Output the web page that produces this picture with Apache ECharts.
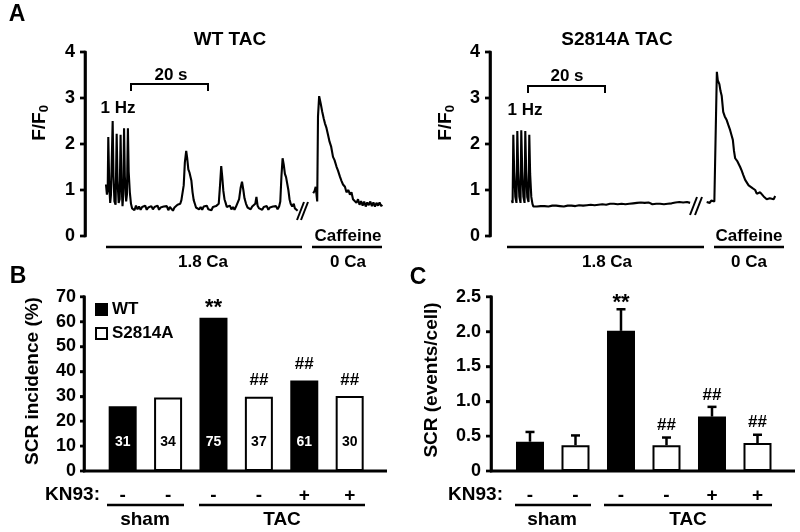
<!DOCTYPE html>
<html><head><meta charset="utf-8">
<script src="https://cdn.jsdelivr.net/npm/echarts@6/dist/echarts.min.js"></script>
<style>html,body{margin:0;padding:0;background:#fff}#c{width:800px;height:532px}</style>
</head><body><div id="c"></div>
<script>
const FONT = '"Liberation Sans", Arial, Helvetica, sans-serif';

// ---------- Panel A: Ca transients, [time (s), F/F0] ----------
const wtTrace = [
[0.0,1.12],[0.25,0.9],[0.45,1.0],[0.6,2.15],[0.85,1.1],[1.1,0.72],[1.3,0.9],
[1.74,2.5],[1.95,1.3],[2.2,0.75],[2.5,0.68],
[2.78,2.22],[3.0,1.2],[3.3,0.72],[3.55,0.8],
[3.8,2.2],[4.0,1.2],[4.3,0.65],[4.5,0.9],
[4.7,2.34],[4.9,1.3],[5.25,0.75],[5.45,0.9],
[5.7,2.34],[5.9,1.4],[6.2,0.95],[6.5,0.7],[6.8,0.6],
[7.0,0.62],[7.4,0.56],[7.8,0.66],[8.2,0.58],[8.6,0.64],[9.0,0.57],[9.4,0.63],[9.8,0.6],
[10.2,0.66],[10.6,0.57],[11.0,0.62],[11.4,0.59],[11.8,0.65],[12.2,0.58],[12.6,0.63],[13.0,0.6],
[13.4,0.66],[13.8,0.57],[14.2,0.62],[14.6,0.58],[15.0,0.64],[15.4,0.6],[15.8,0.65],[16.2,0.56],
[16.6,0.63],[17.0,0.6],[17.4,0.55],[17.8,0.62],[18.2,0.66],[18.6,0.68],[19.0,0.72],[19.3,0.7],
[19.6,0.78],[19.9,0.75],[20.2,1.1],[20.5,1.6],[20.85,1.85],[21.1,1.7],[21.4,1.45],[21.7,1.38],
[21.95,1.4],[22.2,1.2],[22.5,0.95],[22.8,0.78],[23.1,0.7],[23.4,0.62],[23.8,0.66],[24.2,0.58],
[24.6,0.63],[25.0,0.57],[25.4,0.64],[25.8,0.6],[26.2,0.66],[26.6,0.58],[27.0,0.62],[27.4,0.56],
[27.8,0.63],[28.2,0.6],[28.6,0.65],[29.0,0.62],[29.3,0.7],[29.6,1.05],[29.95,1.52],[30.2,1.3],
[30.5,0.98],[30.8,0.8],[31.1,0.72],[31.4,0.63],[31.8,0.6],[32.2,0.66],[32.6,0.58],[33.0,0.63],
[33.4,0.57],[33.8,0.64],[34.2,0.66],[34.6,0.8],[35.0,1.05],[35.35,1.18],[35.7,1.0],[36.0,0.82],
[36.4,0.7],[36.8,0.62],[37.2,0.66],[37.6,0.58],[38.0,0.64],[38.4,0.6],[38.8,0.7],[39.1,0.85],
[39.4,0.66],[39.8,0.6],[40.2,0.64],[40.6,0.57],[41.0,0.63],[41.4,0.59],[41.8,0.65],[42.2,0.57],
[42.6,0.62],[43.0,0.58],[43.4,0.64],[43.8,0.6],[44.2,0.65],[44.6,0.58],[45.0,0.64],[45.3,0.75],
[45.6,1.3],[45.9,1.69],[46.2,1.55],[46.5,1.35],[46.8,1.28],[47.1,1.3],[47.4,1.0],[47.7,0.8],
[48.0,0.7],[48.4,0.64],[48.8,0.7],[49.1,0.6],[49.4,0.57],[49.8,0.55]
];
const wtCaffeine = [
[53.85,0.93],[54.2,0.98],[54.5,1.07],[54.9,0.75],[55.1,2.6],[55.4,3.04],[55.8,2.88],[56.2,2.7],
[56.6,2.55],[56.9,2.45],[57.3,2.35],[57.7,2.2],[58.1,2.05],[58.5,1.95],[59.0,1.72],[59.4,1.65],
[59.9,1.51],[60.3,1.42],[60.8,1.29],[61.2,1.2],[61.6,1.12],[62.1,1.07],[62.5,0.95],[63.0,1.0],
[63.4,0.9],[63.8,0.95],[64.2,0.8],[64.7,0.84],[65.1,0.72],[65.5,0.8],[65.9,0.68],[66.3,0.76],
[66.7,0.66],[67.1,0.75],[67.5,0.64],[67.9,0.73],[68.3,0.67],[68.7,0.75],[69.1,0.65],[69.5,0.73],
[69.9,0.64],[70.3,0.72],[70.7,0.66],[71.1,0.73],[71.5,0.65],[71.8,0.68]
];
const mutTrace = [
[1.0,0.78],[1.2,0.72],[1.38,2.2],[1.6,1.4],[1.9,0.85],[2.2,0.72],[2.42,2.28],[2.65,1.4],
[2.95,0.85],[3.25,0.72],[3.45,2.3],[3.7,1.4],[4.0,0.85],[4.3,0.72],[4.49,2.28],[4.72,1.4],
[5.0,0.85],[5.33,0.74],[5.53,2.2],[5.75,1.35],[6.05,0.85],[6.35,0.7],[6.6,0.64],
[7.0,0.66],[7.5,0.64],[8.0,0.67],[8.5,0.65],[9.0,0.68],[9.5,0.65],[10.0,0.67],[10.5,0.64],
[11.0,0.68],[11.5,0.66],[12.0,0.69],[12.5,0.66],[13.0,0.68],[13.5,0.65],[14.0,0.67],[14.5,0.64],
[15.0,0.68],[15.5,0.66],[16.0,0.69],[16.5,0.66],[17.0,0.68],[17.5,0.65],[18.0,0.69],[18.5,0.67],
[19.0,0.7],[19.5,0.66],[20.0,0.69],[20.5,0.67],[21.0,0.7],[21.5,0.68],[22.0,0.71],[22.5,0.67],
[23.0,0.7],[23.5,0.68],[24.0,0.72],[24.5,0.69],[25.0,0.71],[25.5,0.68],[26.0,0.72],[26.5,0.7],
[27.0,0.73],[27.5,0.7],[28.0,0.72],[28.5,0.69],[29.0,0.72],[29.5,0.7],[30.0,0.73],[30.5,0.69],
[31.0,0.72],[31.5,0.7],[32.0,0.73],[32.5,0.71],[33.0,0.68],[33.5,0.72],[34.0,0.7],[34.5,0.73],
[35.0,0.69],[35.5,0.72],[36.0,0.7],[36.5,0.73],[37.0,0.71],[37.5,0.69],[38.0,0.72],[38.5,0.7],
[39.0,0.74],[39.5,0.7],[40.0,0.72],[40.5,0.69],[41.0,0.73],[41.5,0.7],[42.0,0.74],[42.5,0.71],
[43.0,0.68],[43.5,0.73],[44.0,0.7],[44.5,0.74],[45.0,0.71],[45.5,0.73],[46.0,0.69],[46.5,0.74],
[47.0,0.7],[47.3,0.72]
];
const mutCaffeine = [
[51.6,0.74],[52.0,0.78],[52.4,0.72],[52.8,0.77],[53.2,0.73],[53.6,0.75],[53.95,0.72],[54.25,3.57],
[54.5,3.38],[54.9,3.3],[55.2,3.15],[55.5,3.05],[55.9,2.7],[56.3,2.6],[56.8,2.52],[57.2,2.42],
[57.7,2.3],[58.1,2.18],[58.4,2.09],[58.7,1.85],[59.0,1.69],[59.6,1.62],[60.3,1.5],[60.7,1.42],
[61.1,1.33],[61.6,1.22],[62.0,1.18],[62.5,1.1],[62.9,1.11],[63.5,1.04],[64.2,1.0],[64.6,0.92],
[65.0,0.89],[65.5,0.95],[65.9,0.93],[66.4,0.86],[66.8,0.85],[67.2,0.8],[67.6,0.78],[68.0,0.82],
[68.5,0.85],[69.0,0.8],[69.4,0.87]
];
const traceTicks = [0, 1, 2, 3, 4];

// ---------- Panel B: SCR incidence (%) ----------
const kn93Labels = ['-', '-', '-', '-', '+', '+'];
const wtIncidence = [26.0, 61.5, 36.3];     // sham, TAC, TAC+KN93
const mutIncidence = [29.5, 29.8, 30.1];
const wtCells = [31, 75, 61];
const mutCells = [34, 37, 30];
const incidenceSig = ['', '', '**', '##', '##', '##'];
const incidenceTicks = [0, 10, 20, 30, 40, 50, 60, 70];

// ---------- Panel C: SCR (events/cell) ----------
const wtEvents = [0.42, 2.01, 0.78];
const wtEventsSem = [0.14, 0.31, 0.14];
const mutEvents = [0.37, 0.37, 0.40];
const mutEventsSem = [0.14, 0.11, 0.12];
const eventsSig = ['', '', '**', '##', '##', '##'];
const eventsTicks = [0, 0.5, 1.0, 1.5, 2.0, 2.5];

// ---------- layout: x=0 of each x axis is where the y axis line sits ----------
const LEAD_A1 = 5.45, LEAD_A2 = 4.675;   // s between y axis and trace start
const LEAD_B = 0.852, LEAD_C = 0.857;    // bar slots between y axis and first bar

const shift = (data, lead) => data.map(p => [p[0] + lead, p[1]]);
const wtPairs = (vals, lead) => vals.map((v, i) => [2 * i + lead, v]);
const mutPairs = (vals, lead) => vals.map((v, i) => [2 * i + 1 + lead, v]);
const merge = (wt, mut) => { const o = []; wt.forEach((v, i) => o.push(v, mut[i])); return o; };
const meanB = merge(wtIncidence, mutIncidence);
const meanC = merge(wtEvents, mutEvents);
const semC = merge(wtEventsSem, mutEventsSem);
const cellsB = merge(wtCells, mutCells);

const bold = (s) => 'bold ' + s + 'px ' + FONT;
function T(x, y, text, size, extra, styleExtra) {
  return Object.assign({ type: 'text', x: x, y: y, z: 10,
    style: Object.assign({ text: text, fill: '#000', font: bold(size), align: 'center', verticalAlign: 'middle' }, styleExtra || {}) }, extra || {});
}
function L(x1, y1, x2, y2, w) {
  return { type: 'line', z: 10, shape: { x1: x1, y1: y1, x2: x2, y2: y2 }, style: { stroke: '#000', lineWidth: w || 2.5 } };
}
function R(x, y, w, h) {
  return { type: 'rect', z: 10, shape: { x: x, y: y, width: w, height: h }, style: { fill: '#000' } };
}
function FF(x, y) {
  return { type: 'text', x: x, y: y, rotation: Math.PI / 2, z: 10,
    style: { text: '{a|F/F}{b|0}', align: 'center', verticalAlign: 'middle', fill: '#000',
      rich: { a: { font: bold(19), lineHeight: 22, fill: '#000' }, b: { font: bold(13), lineHeight: 14, verticalAlign: 'bottom', fill: '#000' } } } };
}

const valueY = (gi, ticks, margin, tickLen, fmt) => ({
  gridIndex: gi, type: 'value', min: ticks[0], max: ticks[ticks.length - 1], interval: ticks[1] - ticks[0],
  axisLine: { show: true, onZero: true, lineStyle: { color: '#000', width: 2.6 } },
  axisTick: { show: true, inside: false, length: tickLen, lineStyle: { color: '#000', width: 2.4 } },
  axisLabel: { color: '#000', fontWeight: 'bold', fontSize: 18, fontFamily: FONT, margin: margin, formatter: fmt },
  splitLine: { show: false }
});
const barX = (gi, min, max, lead) => ({
  gridIndex: gi, type: 'value', min: min, max: max,
  axisLine: { show: false }, axisTick: { show: false }, splitLine: { show: false },
  axisLabel: { color: '#000', fontWeight: 'bold', fontSize: 19, fontFamily: FONT, margin: 15,
    customValues: [0, 1, 2, 3, 4, 5].map(i => i + lead), formatter: v => kn93Labels[Math.round(v - lead)] || '' }
});
const traceLine = (xi, data) => ({
  type: 'line', xAxisIndex: xi, yAxisIndex: xi, data: data, showSymbol: false, symbol: 'none',
  lineStyle: { color: '#000', width: 2.1 }, silent: true
});

function sigSeries(xi, lead, means, sems, sigs, gap, withErr) {
  const data = means.map((m, i) => [i + lead, m]);
  return {
    type: 'custom', xAxisIndex: xi, yAxisIndex: xi, z: 5, clip: false, silent: true, data: data,
    renderItem: function (params, api) {
      const i = params.dataIndex;
      const x = i + lead;
      const base = api.coord([x, means[i]]);
      const children = [];
      let topY = base[1];
      if (withErr) {
        const top = api.coord([x, means[i] + sems[i]]);
        topY = top[1];
        children.push({ type: 'rect', shape: { x: base[0] - 1.25, y: top[1], width: 2.5, height: base[1] - top[1] }, style: { fill: '#000' } });
        children.push({ type: 'rect', shape: { x: top[0] - 4.5, y: top[1] - 1.25, width: 9, height: 2.5 }, style: { fill: '#000' } });
      }
      const s = sigs[i];
      if (s) {
        const star = s === '**';
        children.push({ type: 'text', x: base[0], y: topY - gap + (star ? 6 : 0),
          style: { text: s, fill: '#000', font: bold(star ? 22 : 17), align: 'center', verticalAlign: 'middle' } });
      }
      return { type: 'group', children: children };
    }
  };
}

const barSeries = (xi, name, data, fill, label) => ({
  type: 'bar', name: name, xAxisIndex: xi, yAxisIndex: xi, data: data, barWidth: 28, barGap: '-100%',
  itemStyle: { color: fill, borderColor: '#000', borderWidth: 2 }, label: label
});
const cellLabel = (color) => ({ show: true, position: 'insideBottom', distance: 22, color: color,
  fontWeight: 'bold', fontSize: 14, fontFamily: FONT, formatter: p => String(cellsB[Math.round(p.value[0] - LEAD_B)]) });

// grids start 1 px left of the axis line so x = 0 lies just inside each grid
const GRIDS = [
  { left: 84, top: 52, width: 299, height: 184 },
  { left: 489, top: 52, width: 296, height: 184 },
  { left: 83, top: 296.7, width: 304, height: 174.3 },
  { left: 490, top: 296.7, width: 305, height: 174.3 }
];
const AXIS_X = [85, 490, 84, 491];

// backup y-axis lines with outward ticks on the same linear scale
function yAxisGraphics(gi, ticks, len) {
  const g = GRIDS[gi], x = AXIS_X[gi];
  const lo = ticks[0], hi = ticks[ticks.length - 1];
  const py = v => g.top + g.height * (1 - (v - lo) / (hi - lo));
  const out = [R(x - 1.3, py(hi) - 1.2, 2.6, py(lo) - py(hi) + 2.4)];
  ticks.forEach(t => out.push(R(x - len, py(t) - 1.2, len, 2.4)));
  return out;
}

const graphics = [
  T(17, 15, 'A', 23), T(18, 277, 'B', 23), T(418, 278, 'C', 23),
  T(230, 40, 'WT TAC', 19), T(617, 40, 'S2814A TAC', 19),
  FF(40, 123), FF(446, 123),
  // 20 s scale bars
  L(131, 84, 208, 84, 2), R(130, 83, 2, 8), R(207, 83, 2, 8),
  L(528, 86, 605, 86, 2), R(527, 85, 2, 8), R(604, 85, 2, 8),
  T(171, 75, '20 s', 17), T(567, 76, '20 s', 17),
  T(118, 108, '1 Hz', 17), T(525, 110, '1 Hz', 17),
  // axis breaks
  L(297, 220, 304, 202, 2), L(301, 220, 308, 202, 2),
  L(690, 215, 697, 197, 2), L(695, 215, 702, 197, 2),
  // solution bars
  L(106, 247, 302, 247, 2.5), L(312, 247, 382, 247, 2.5),
  L(507, 247, 704, 247, 2.5), L(714, 247, 784, 247, 2.5),
  T(348, 236, 'Caffeine', 17), T(203, 262, '1.8 Ca', 17), T(348, 262, '0 Ca', 17),
  T(749, 236, 'Caffeine', 17), T(607, 262, '1.8 Ca', 17), T(749, 262, '0 Ca', 17),
  // panel B/C axis titles and baselines
  T(33, 381, 'SCR incidence (%)', 19, { rotation: Math.PI / 2 }),
  T(432, 380, 'SCR (events/cell)', 19, { rotation: Math.PI / 2 }),
  L(83, 471, 387, 471, 3), L(490, 471, 795, 471, 3),
  T(100, 495, 'KN93:', 19, null, { align: 'right' }),
  T(503, 495, 'KN93:', 19, null, { align: 'right' }),
  L(107, 505, 184, 505, 2.5), L(199, 505, 365, 505, 2.5),
  L(515, 505, 591, 505, 2.5), L(604, 505, 772, 505, 2.5),
  T(145, 520, 'sham', 19), T(282, 520, 'TAC', 19),
  T(552, 520, 'sham', 19), T(688, 520, 'TAC', 19)
].concat(
  yAxisGraphics(0, traceTicks, 5),
  yAxisGraphics(1, traceTicks, 5),
  yAxisGraphics(2, incidenceTicks, 4),
  yAxisGraphics(3, eventsTicks, 5)
);

const chart = echarts.init(document.getElementById('c'), null, { renderer: 'canvas' });
chart.setOption({
  backgroundColor: '#fff',
  animation: false,
  textStyle: { fontFamily: FONT },
  grid: GRIDS,
  xAxis: [
    { gridIndex: 0, type: 'value', min: -0.26, max: -0.26 + 299 / 3.848, show: false },
    { gridIndex: 1, type: 'value', min: -0.26, max: -0.26 + 296 / 3.85, show: false },
    barX(2, -0.022, -0.022 + 304 / 45.4, LEAD_B),
    barX(3, -0.022, -0.022 + 305 / 45.5, LEAD_C)
  ],
  yAxis: [
    valueY(0, traceTicks, 9, 5), valueY(1, traceTicks, 9, 5),
    valueY(2, incidenceTicks, 7, 4),
    valueY(3, eventsTicks, 9, 5, v => v === 0 ? '0' : v.toFixed(1))
  ],
  legend: {
    orient: 'vertical', left: 95, top: 301, padding: 0, itemWidth: 11, itemHeight: 11, itemGap: 7,
    icon: 'rect', selectedMode: false, data: ['WT', 'S2814A'],
    textStyle: { color: '#000', fontWeight: 'bold', fontSize: 17, fontFamily: FONT, lineHeight: 12 }
  },
  series: [
    traceLine(0, shift(wtTrace, LEAD_A1)), traceLine(0, shift(wtCaffeine, LEAD_A1)),
    traceLine(1, shift(mutTrace, LEAD_A2)), traceLine(1, shift(mutCaffeine, LEAD_A2)),
    barSeries(2, 'WT', wtPairs(wtIncidence, LEAD_B), '#000', cellLabel('#fff')),
    barSeries(2, 'S2814A', mutPairs(mutIncidence, LEAD_B), '#fff', cellLabel('#000')),
    sigSeries(2, LEAD_B, meanB, null, incidenceSig, 16, false),
    barSeries(3, 'WT', wtPairs(wtEvents, LEAD_C), '#000', { show: false }),
    barSeries(3, 'S2814A', mutPairs(mutEvents, LEAD_C), '#fff', { show: false }),
    sigSeries(3, LEAD_C, meanC, semC, eventsSig, 12, true)
  ],
  graphic: graphics
});
</script>
</body></html>
